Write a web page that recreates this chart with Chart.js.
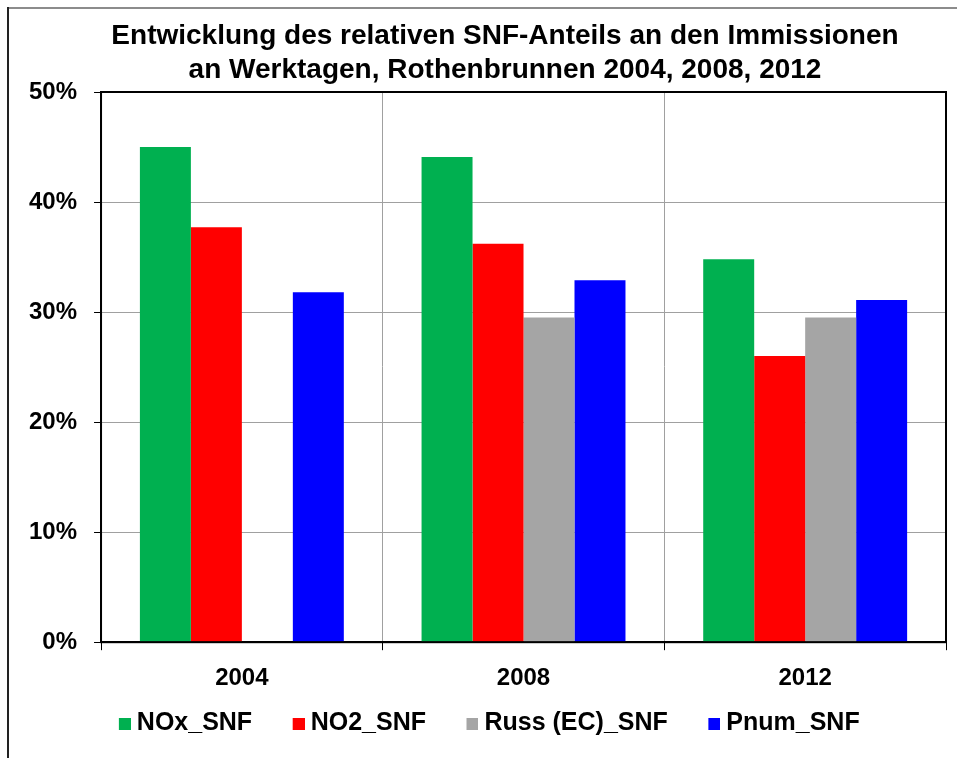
<!DOCTYPE html>
<html>
<head>
<meta charset="utf-8">
<script src="https://cdn.jsdelivr.net/npm/chart.js@4.4.0/dist/chart.umd.min.js"></script>
<style>
  html, body { margin: 0; padding: 0; background: #fff; }
  #wrap { width: 957px; height: 758px; }
</style>
</head>
<body>
<div id="wrap"><canvas id="snfChart" width="957" height="758"></canvas></div>
<script>
  // ── Data ────────────────────────────────────────────────────────────────
  const years   = ['2004', '2008', '2012'];
  const noxSnf  = [45.0, 44.1, 34.8];
  const no2Snf  = [37.7, 36.2, 26.0];
  const russSnf = [null, 29.5, 29.5];
  const pnumSnf = [31.8, 32.9, 31.1];
  const seriesNames = ['NOx_SNF', 'NO2_SNF', 'Russ (EC)_SNF', 'Pnum_SNF'];
  const titleLines = [
    'Entwicklung des relativen SNF-Anteils an den Immissionen',
    'an Werktagen, Rothenbrunnen 2004, 2008, 2012'
  ];

  const GREEN = '#00B050';
  const RED   = '#FF0000';
  const GREY  = '#A5A5A5';
  const BLUE  = '#0000FF';
  const FONT  = "'Liberation Sans', Arial, sans-serif";

  // legend marker: small square sitting at the right end of a wider blank strip,
  // so items get more room between them without a tall legend box
  const MARK_W = 26;
  function legendMarker(color) {
    const c = document.createElement('canvas');
    c.width = MARK_W + 13;
    c.height = 12;
    const g = c.getContext('2d');
    g.fillStyle = color;
    g.fillRect(c.width - 12, 0, 12, 12);
    return c;
  }

  // title + frame, drawn by hand (title sits off-centre in the original)
  const framePlugin = {
    id: 'frame',
    beforeDraw(chart) {
      const ctx = chart.ctx;
      ctx.save();
      ctx.fillStyle = '#fff';
      ctx.fillRect(0, 0, chart.width, chart.height);
      ctx.strokeStyle = '#8c8c8c';
      ctx.lineWidth = 2;
      ctx.beginPath(); ctx.moveTo(7, 8); ctx.lineTo(chart.width, 8); ctx.stroke();
      ctx.strokeStyle = '#222';
      ctx.beginPath(); ctx.moveTo(8, 7); ctx.lineTo(8, chart.height); ctx.stroke();
      ctx.fillStyle = '#000';
      ctx.font = 'bold 28px ' + FONT;
      ctx.textAlign = 'center';
      ctx.textBaseline = 'alphabetic';
      titleLines.forEach((t, i) => ctx.fillText(t, 505, 44 + i * 34));
      ctx.restore();
    },
    afterDraw(chart) {
      const a = chart.chartArea, ctx = chart.ctx;
      ctx.save();
      ctx.strokeStyle = '#000';
      ctx.lineWidth = 2;
      ctx.strokeRect(a.left, a.top, a.right - a.left, a.bottom - a.top);
      ctx.restore();
    }
  };

  const colors = [GREEN, RED, GREY, BLUE];
  const values = [noxSnf, no2Snf, russSnf, pnumSnf];
  const markers = colors.map(legendMarker);

  new Chart(document.getElementById('snfChart'), {
    type: 'bar',
    data: {
      labels: years,
      datasets: seriesNames.map((name, i) => ({
        label: name,
        data: values[i],
        backgroundColor: colors[i],
        borderWidth: 0,
        categoryPercentage: 0.724,
        barPercentage: 1.0
      }))
    },
    options: {
      responsive: false,
      animation: false,
      layout: { padding: { left: 12, right: 11, top: 92, bottom: 12 } },
      scales: {
        x: {
          grid: { color: '#a0a0a0', lineWidth: 1, tickColor: '#000', tickLength: 8, offset: true },
          border: { color: '#000', width: 2 },
          ticks: { color: '#000', font: { family: FONT, size: 24, weight: 'bold' }, padding: 14 },
          afterFit: scale => { scale.height -= 16; }
        },
        y: {
          min: 0,
          max: 50,
          ticks: {
            stepSize: 10,
            color: '#000',
            padding: 17,
            font: { family: FONT, size: 24, weight: 'bold' },
            callback: v => v + '%'
          },
          grid: { color: '#a0a0a0', lineWidth: 1, tickColor: '#000', tickLength: 7 },
          border: { color: '#000', width: 2 }
        }
      },
      plugins: {
        legend: {
          position: 'bottom',
          labels: {
            color: '#000',
            usePointStyle: true,
            pointStyleWidth: MARK_W,
            boxHeight: 12,
            padding: 20,
            font: { family: FONT, size: 25, weight: 'bold' },
            generateLabels: chart =>
              Chart.defaults.plugins.legend.labels.generateLabels(chart)
                .map((item, i) => ({ ...item, pointStyle: markers[i] }))
          }
        },
        tooltip: { enabled: false }
      }
    },
    plugins: [framePlugin]
  });
</script>
</body>
</html>
